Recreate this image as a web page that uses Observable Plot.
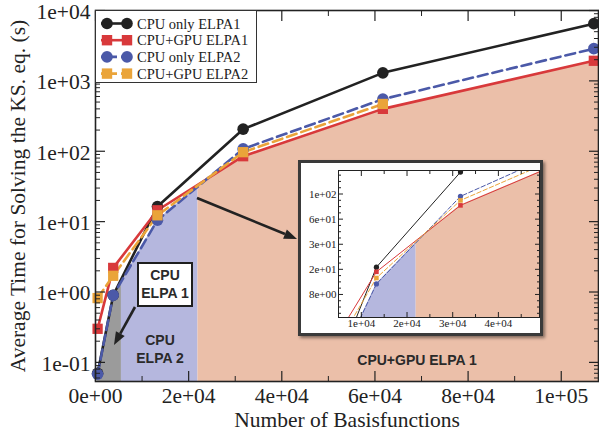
<!DOCTYPE html>
<html><head><meta charset="utf-8">
<script src="https://cdn.jsdelivr.net/npm/d3@7"></script>
<script src="https://cdn.jsdelivr.net/npm/@observablehq/plot@0.6"></script>
<style>
body{margin:0;background:#fff;}
#wrap{position:relative;width:599px;height:430px;overflow:hidden;font-family:"Liberation Serif","Times New Roman",serif;}
#wrap > svg, #wrap > div{position:absolute;}
.legend{left:95px;top:10px;width:160px;height:71px;border:1px solid #333;background:#fff;}
.inset{left:298px;top:160px;width:239px;height:170px;border:3px solid #3a3a3a;background:#fff;box-shadow:2px 2px 3px rgba(0,0,0,0.45);}
.anno{font-family:"Liberation Sans",Arial,sans-serif;font-weight:bold;font-size:14px;line-height:18px;color:#2a2a2a;text-align:center;}
.box1{left:137px;top:262px;width:52px;height:39px;border:2.5px solid #1e1e1e;background:#fff;padding-top:2px;box-sizing:content-box;}
</style></head><body><div id="wrap"></div><script>
// ---- data ----
const basis    = [450, 3800, 13300, 31700, 61700, 107000];
const cpuElpa1 = [0.07, 0.9, 16.4, 206, 1300, 6500];
const gpuElpa1 = [0.30, 2.2, 14.5, 85, 400, 1930];
const cpuElpa2 = [0.068, 0.9, 10.5, 108, 550, 2870];
const gpuElpa2 = [0.82, 1.7, 12.3, 97, 470];
const seriesNames = ["CPU only ELPA1", "CPU+GPU ELPA1", "CPU only ELPA2", "CPU+GPU ELPA2"];
const regionBounds = [450, 5570, 22000, 108000];
const regionNames = ["CPU ELPA 1", "CPU ELPA 2", "CPU+GPU ELPA 1"];
const xTicks = [0, 20000, 40000, 60000, 80000, 100000];
const xTickLabels = ["0e+00", "2e+04", "4e+04", "6e+04", "8e+04", "1e+05"];
const yTicks = [0.1, 1, 10, 100, 1000, 10000];
const yTickLabels = ["1e-01", "1e+00", "1e+01", "1e+02", "1e+03", "1e+04"];
const insetXTicks = [10000, 20000, 30000, 40000];
const insetXTickLabels = ["1e+04", "2e+04", "3e+04", "4e+04"];
const insetYTicks = [7.94, 15.5, 30.2, 58.9, 115];
const insetYTickLabels = ["8e+00", "2e+01", "3e+01", "6e+01", "1e+02"];

// ---- styles ----
const seriesValues = [cpuElpa1, gpuElpa1, cpuElpa2, gpuElpa2];
const styles = [
  {color: "#222222", dash: null, symbol: "circle"},
  {color: "#d8393b", dash: null, symbol: "square"},
  {color: "#4b59a8", dash: "10,5", symbol: "circle"},
  {color: "#eaa43a", dash: "10,5", symbol: "square"}
];
const regionFills = ["#9b9b9b", "#b5b7de", "#ebbfa9"];
const serif = '"Liberation Serif","Times New Roman",serif';

const series = seriesNames.map((name, i) => ({
  name, style: styles[i],
  pts: seriesValues[i].map((v, j) => ({x: basis[j], y: v}))
}));

const wrap = d3.select("#wrap");

function fillMarks(top, clip) {
  const m = [];
  regionNames.forEach((n, i) => {
    m.push(Plot.rect([n], {x1: () => regionBounds[i], x2: () => regionBounds[i + 1], fill: regionFills[i], clip}));
  });
  series.forEach(s => {
    m.push(Plot.areaY(s.pts, {x: "x", y1: "y", y2: () => top, fill: "white", clip}));
  });
  return m;
}
function seriesMarks(sw, r, clip, dashScale) {
  const m = [];
  series.forEach(s => {
    const st = s.style;
    m.push(Plot.line(s.pts, {x: "x", y: "y", stroke: st.color, strokeWidth: sw,
      strokeDasharray: st.dash ? st.dash.split(",").map(d => d * dashScale).join(",") : null, clip}));
  });
  series.forEach(s => {
    const st = s.style;
    m.push(Plot.dot(s.pts, {x: "x", y: "y", fill: st.color, r, symbol: st.symbol, clip}));
  });
  return m;
}
function minorLog(lo, hi) {
  const out = [];
  for (let e = -3; e <= 4; e++) for (let k = 2; k <= 9; k++) {
    const v = k * Math.pow(10, e);
    if (v > lo && v < hi) out.push(v);
  }
  return out;
}

// ---- main chart ----
const yDomain = [0.0535, 10000];
const xDomain = [0, 108000];
const xLab = new Map(xTicks.map((d, i) => [d, xTickLabels[i]]));
const yLab = new Map(yTicks.map((d, i) => [d, yTickLabels[i]]));
const xMinor = xTicks.slice(0, -1).map((d, i) => (d + xTicks[i + 1]) / 2);
const yMinor = minorLog(yDomain[0], yDomain[1]);
const lastX = basis[basis.length - 1];
const lastMin = d3.min(seriesValues.filter(v => v.length === basis.length), v => v[v.length - 1]);
const none = () => "";

const main = Plot.plot({
  width: 599, height: 430,
  marginLeft: 95, marginRight: 1, marginTop: 10, marginBottom: 49,
  style: {fontFamily: serif, fontSize: "21.5px", background: "transparent", color: "#222"},
  x: {domain: xDomain, label: null},
  y: {type: "log", domain: yDomain, label: null},
  marks: [
    ...fillMarks(yDomain[1], false),
    Plot.rect([lastX], {x1: d => d, x2: () => xDomain[1], y1: () => lastMin, y2: () => yDomain[1], fill: "white"}),
    ...seriesMarks(2.6, 5.8, false, 1),
    Plot.axisY(yTicks, {anchor: "left", tickSize: 0, tickPadding: 5, dy: 1.5, text: d => yLab.get(d),
      label: "Average Time for Solving the KS. eq. (s)", labelAnchor: "center", labelOffset: 86, labelArrow: "none"}),
    Plot.axisY(yTicks, {anchor: "left", tickSize: -10, text: none, label: null, strokeWidth: 1.2}),
    Plot.axisY(yMinor, {anchor: "left", tickSize: -5, text: none, label: null, strokeWidth: 1}),
    Plot.axisY(yTicks, {anchor: "right", tickSize: -10, text: none, label: null, strokeWidth: 1.2}),
    Plot.axisY(yMinor, {anchor: "right", tickSize: -5, text: none, label: null, strokeWidth: 1}),
    Plot.axisX(xTicks, {anchor: "bottom", tickSize: 0, tickPadding: 6, text: d => xLab.get(d),
      label: "Number of Basisfunctions", labelAnchor: "center", labelOffset: 45, labelArrow: "none"}),
    Plot.axisX(xTicks, {anchor: "bottom", tickSize: -10, text: none, label: null, strokeWidth: 1.2}),
    Plot.axisX(xMinor, {anchor: "bottom", tickSize: -5, text: none, label: null, strokeWidth: 1}),
    Plot.axisX(xTicks, {anchor: "top", tickSize: -10, text: none, label: null, strokeWidth: 1.2}),
    Plot.axisX(xMinor, {anchor: "top", tickSize: -5, text: none, label: null, strokeWidth: 1}),
    Plot.frame({stroke: "#222", strokeWidth: 1.6})
  ]
});
d3.select(main).style("left", "0px").style("top", "0px");
wrap.node().appendChild(main);

// ---- legend ----
const leg = wrap.append("div").attr("class", "legend");
const lsvg = leg.append("svg").attr("width", 160).attr("height", 71);
series.forEach((s, i) => {
  const y = 12.5 + i * 16.7;
  const g = lsvg.append("g");
  g.append("line").attr("x1", 5).attr("x2", 36).attr("y1", y).attr("y2", y)
    .attr("stroke", s.style.color).attr("stroke-width", 2.6)
    .attr("stroke-dasharray", s.style.dash ? "6,4" : null);
  [11, 31].forEach(cx => {
    if (s.style.symbol === "circle") g.append("circle").attr("cx", cx).attr("cy", y).attr("r", 5.8).attr("fill", s.style.color);
    else g.append("rect").attr("x", cx - 5.2).attr("y", y - 5.2).attr("width", 10.4).attr("height", 10.4).attr("fill", s.style.color);
  });
  g.append("text").attr("x", 41).attr("y", y + 5).attr("font-family", serif).attr("font-size", 14.5)
    .attr("fill", "#222").text(s.name);
});

// ---- region annotations ----
const box1 = wrap.append("div").attr("class", "anno box1");
box1.html(regionNames[0].replace(" ", "<br>"));
wrap.append("div").attr("class", "anno").style("left", "130px").style("top", "331px").style("width", "60px")
  .html(regionNames[1].replace(" ", "<br>"));
wrap.append("div").attr("class", "anno").style("left", "347px").style("top", "351px").style("width", "140px")
  .html(regionNames[2]);

// ---- inset ----
const iyDomain = [4.3, 215];
const ixDomain = [5000, 49000];
const ixLab = new Map(insetXTicks.map((d, i) => [d, insetXTickLabels[i]]));
const iyLab = new Map(insetYTicks.map((d, i) => [d, insetYTickLabels[i]]));
const ixMinor = insetXTicks.map(d => d - 5000).concat([insetXTicks[insetXTicks.length - 1] + 5000]);
const iyMinor = [];
const allIy = [insetYTicks[0] / (insetYTicks[1] / insetYTicks[0]), ...insetYTicks, insetYTicks[4] * (insetYTicks[4] / insetYTicks[3])];
for (let i = 0; i < allIy.length - 1; i++) {
  const r = Math.pow(allIy[i + 1] / allIy[i], 1 / 4);
  for (let k = 1; k < 4; k++) iyMinor.push(allIy[i] * Math.pow(r, k));
}
const iyMinorIn = iyMinor.filter(v => v > iyDomain[0] && v < iyDomain[1]);
const ins = wrap.append("div").attr("class", "inset");
const inset = Plot.plot({
  width: 239, height: 170,
  marginLeft: 37, marginRight: 1, marginTop: 7, marginBottom: 16,
  style: {fontFamily: serif, fontSize: "11px", background: "transparent", color: "#222"},
  x: {domain: ixDomain, label: null},
  y: {type: "log", domain: iyDomain, label: null},
  marks: [
    ...fillMarks(iyDomain[1], true),
    ...seriesMarks(1, 2.6, true, 0.45),
    Plot.axisY(insetYTicks, {anchor: "left", tickSize: 0, tickPadding: 2, text: d => iyLab.get(d), label: null}),
    Plot.axisY(insetYTicks, {anchor: "left", tickSize: -5, text: none, label: null}),
    Plot.axisY(iyMinorIn, {anchor: "left", tickSize: -3, text: none, label: null}),
    Plot.axisY(insetYTicks, {anchor: "right", tickSize: -5, text: none, label: null}),
    Plot.axisY(iyMinorIn, {anchor: "right", tickSize: -3, text: none, label: null}),
    Plot.axisX(insetXTicks, {anchor: "bottom", tickSize: 0, tickPadding: 2, text: d => ixLab.get(d), label: null}),
    Plot.axisX(insetXTicks, {anchor: "bottom", tickSize: -5, text: none, label: null}),
    Plot.axisX(ixMinor, {anchor: "bottom", tickSize: -3, text: none, label: null}),
    Plot.axisX(insetXTicks, {anchor: "top", tickSize: -5, text: none, label: null}),
    Plot.axisX(ixMinor, {anchor: "top", tickSize: -3, text: none, label: null}),
    Plot.frame({stroke: "#222", strokeWidth: 1})
  ]
});
ins.node().appendChild(inset);

// ---- arrows ----
const asvg = wrap.append("svg").attr("width", 599).attr("height", 430).style("left", "0px").style("top", "0px")
  .style("pointer-events", "none");
function arrow(x1, y1, x2, y2) {
  const a = Math.atan2(y2 - y1, x2 - x1), L = 13, W = 5;
  const bx = x2 - L * Math.cos(a), by = y2 - L * Math.sin(a);
  asvg.append("line").attr("x1", x1).attr("y1", y1).attr("x2", bx).attr("y2", by)
    .attr("stroke", "#222").attr("stroke-width", 2.6);
  asvg.append("path").attr("d", `M${x2},${y2}L${bx + W * Math.sin(a)},${by - W * Math.cos(a)}L${bx - W * Math.sin(a)},${by + W * Math.cos(a)}Z`)
    .attr("fill", "#222");
}
arrow(197, 198, 297, 239);
arrow(135, 307, 114, 345);
</script></body></html>
